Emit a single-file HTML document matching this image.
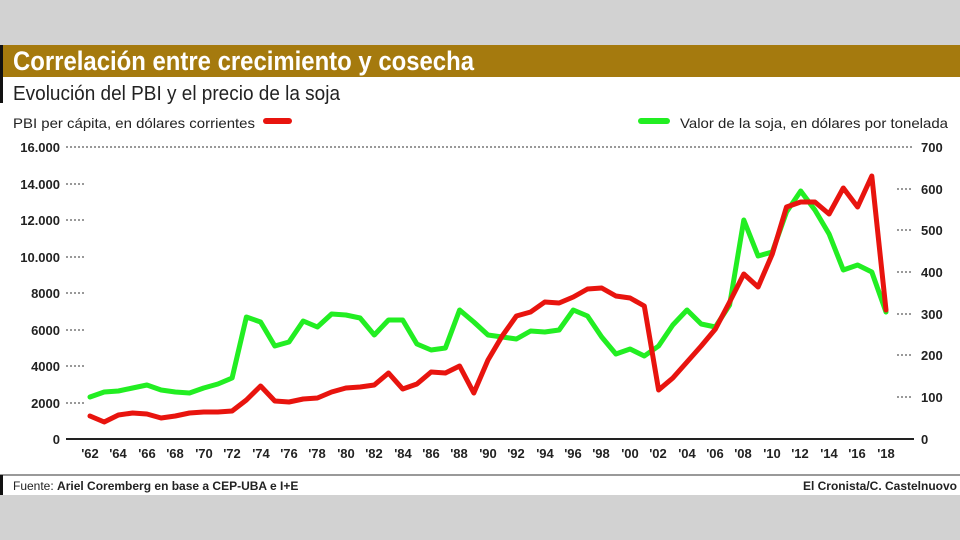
<!DOCTYPE html>
<html><head><meta charset="utf-8"><style>
body{margin:0;width:960px;height:540px;background:#d2d2d2;overflow:hidden;font-family:"Liberation Sans",sans-serif}
</style></head><body>
<svg width="960" height="540" xmlns="http://www.w3.org/2000/svg" style="position:absolute;left:0;top:0" font-family="Liberation Sans, sans-serif">
<rect x="0" y="45" width="960" height="450" fill="#fff"/>
<rect x="0" y="45" width="960" height="32" fill="#a57a0e"/>
<rect x="0" y="45" width="3" height="58" fill="#111"/>
<text x="13" y="70" font-size="27" font-weight="bold" fill="#fff" textLength="461" lengthAdjust="spacingAndGlyphs">Correlación entre crecimiento y cosecha</text>
<text x="13" y="100" font-size="20" fill="#222" textLength="327" lengthAdjust="spacingAndGlyphs">Evolución del PBI y el precio de la soja</text>
<text x="13" y="128" font-size="14" fill="#222" textLength="242" lengthAdjust="spacingAndGlyphs">PBI per cápita, en dólares corrientes</text>
<line x1="266" y1="121" x2="289" y2="121" stroke="#e8140e" stroke-width="6" stroke-linecap="round"/>
<line x1="641" y1="121" x2="667" y2="121" stroke="#22ee22" stroke-width="6" stroke-linecap="round"/>
<text x="680" y="128" font-size="14" fill="#222" textLength="268" lengthAdjust="spacingAndGlyphs">Valor de la soja, en dólares por tonelada</text>
<g font-size="13" font-weight="bold" fill="#222" text-anchor="end">
<text x="60" y="152">16.000</text><text x="60" y="189">14.000</text><text x="60" y="225">12.000</text><text x="60" y="262">10.000</text><text x="60" y="298">8000</text><text x="60" y="335">6000</text><text x="60" y="371">4000</text><text x="60" y="408">2000</text><text x="60" y="444">0</text>
</g>
<g font-size="13" font-weight="bold" fill="#222">
<text x="921" y="152">700</text><text x="921" y="194">600</text><text x="921" y="235">500</text><text x="921" y="277">400</text><text x="921" y="319">300</text><text x="921" y="360">200</text><text x="921" y="402">100</text><text x="921" y="444">0</text>
</g>
<g stroke="#333" stroke-width="1" stroke-dasharray="2,2">
<line x1="66" y1="147" x2="913" y2="147"/>
<line x1="66" y1="184" x2="84" y2="184"/><line x1="66" y1="220" x2="84" y2="220"/><line x1="66" y1="257" x2="84" y2="257"/><line x1="66" y1="293" x2="84" y2="293"/><line x1="66" y1="330" x2="84" y2="330"/><line x1="66" y1="366" x2="84" y2="366"/><line x1="66" y1="403" x2="84" y2="403"/>
<line x1="897" y1="189" x2="913" y2="189"/><line x1="897" y1="230" x2="913" y2="230"/><line x1="897" y1="272" x2="913" y2="272"/><line x1="897" y1="314" x2="913" y2="314"/><line x1="897" y1="355" x2="913" y2="355"/><line x1="897" y1="397" x2="913" y2="397"/>
</g>
<line x1="66" y1="439" x2="914" y2="439" stroke="#222" stroke-width="2"/>
<g font-size="13" font-weight="bold" fill="#222" text-anchor="middle">
<text x="90" y="458">'62</text><text x="118" y="458">'64</text><text x="147" y="458">'66</text><text x="175" y="458">'68</text><text x="204" y="458">'70</text><text x="232" y="458">'72</text><text x="261" y="458">'74</text><text x="289" y="458">'76</text><text x="317" y="458">'78</text><text x="346" y="458">'80</text><text x="374" y="458">'82</text><text x="403" y="458">'84</text><text x="431" y="458">'86</text><text x="459" y="458">'88</text><text x="488" y="458">'90</text><text x="516" y="458">'92</text><text x="545" y="458">'94</text><text x="573" y="458">'96</text><text x="601" y="458">'98</text><text x="630" y="458">'00</text><text x="658" y="458">'02</text><text x="687" y="458">'04</text><text x="715" y="458">'06</text><text x="743" y="458">'08</text><text x="772" y="458">'10</text><text x="800" y="458">'12</text><text x="829" y="458">'14</text><text x="857" y="458">'16</text><text x="886" y="458">'18</text>
</g>
<polyline id="g" fill="none" stroke="#22ee22" stroke-width="5" stroke-linejoin="round" stroke-linecap="round"/>
<polyline id="r" fill="none" stroke="#e8140e" stroke-width="5" stroke-linejoin="round" stroke-linecap="round"/>
<line x1="0" y1="475" x2="960" y2="475" stroke="#333" stroke-width="1"/>
<rect x="0" y="475" width="3" height="20" fill="#111"/>
<text x="13" y="490" font-size="12" fill="#222">Fuente: <tspan font-weight="bold">Ariel Coremberg en base a CEP-UBA e I+E</tspan></text>
<text x="957" y="490" font-size="12" font-weight="bold" fill="#222" text-anchor="end">El Cronista/C. Castelnuovo</text>
</svg>
<script>
var R=[416,422,415,413,414,418,416,413,412,412,411,400,386,401,402,399,398,392,388,387,385,373,389,384,372,373,366,393,360,336,316,312,302,303,297,289,288,296,298,306,390,378,362,346,329,302,274,287,254,207,202,202,214,188,207,176,310];
var G=[397,392,391,388,385,390,392,393,388,384,378,317,322,346,342,321,327,314,315,318,335,320,320,344,350,348,310,322,335,337,339,331,332,330,310,316,337,354,349,356,346,325,310,324,327,305,220,256,252,212,191,210,234,270,265,272,312];
function p(a){return a.map(function(y,i){return (90+i*14.214).toFixed(1)+","+y}).join(" ")}
document.getElementById("r").setAttribute("points",p(R));
document.getElementById("g").setAttribute("points",p(G));
</script>
</body></html>
